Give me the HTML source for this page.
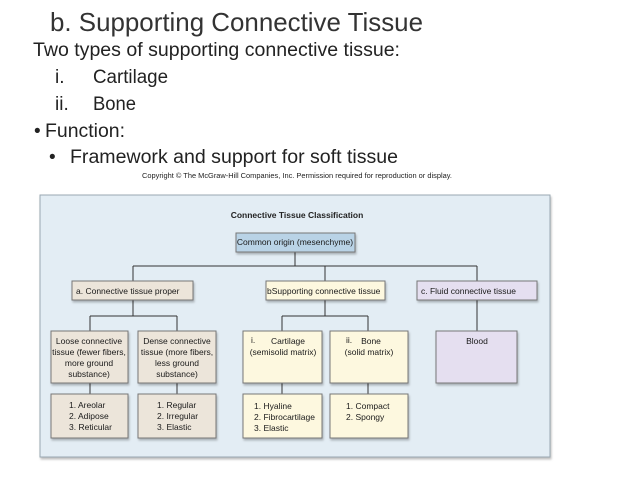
<!DOCTYPE html>
<html><head><meta charset="utf-8"><style>
html,body{margin:0;padding:0;background:#fff;}
svg{display:block;font-family:"Liberation Sans",sans-serif;}
</style></head><body>
<svg width="638" height="478" viewBox="0 0 638 478" xmlns="http://www.w3.org/2000/svg">
<defs><filter id="sh" x="-10%" y="-10%" width="130%" height="140%"><feDropShadow dx="1" dy="2" stdDeviation="1" flood-color="#000" flood-opacity="0.25"/></filter></defs>
<g fill="#222">
<text x="50" y="31" font-size="26" textLength="373" lengthAdjust="spacingAndGlyphs" fill="#333">b. Supporting Connective Tissue</text>
<text x="33" y="56" font-size="19" textLength="367" lengthAdjust="spacingAndGlyphs">Two types of supporting connective tissue:</text>
<text x="55" y="83" font-size="19">i.</text>
<text x="93" y="83" font-size="19" textLength="75" lengthAdjust="spacingAndGlyphs">Cartilage</text>
<text x="55" y="110" font-size="19">ii.</text>
<text x="93" y="110" font-size="19" textLength="43" lengthAdjust="spacingAndGlyphs">Bone</text>
<text x="34" y="137" font-size="19">•</text>
<text x="45" y="137" font-size="19" textLength="80" lengthAdjust="spacingAndGlyphs">Function:</text>
<text x="49" y="163" font-size="19">•</text>
<text x="70" y="163" font-size="19" textLength="328" lengthAdjust="spacingAndGlyphs">Framework and support for soft tissue</text>
<text x="142" y="178" font-size="7" textLength="310" lengthAdjust="spacingAndGlyphs">Copyright © The McGraw-Hill Companies, Inc. Permission required for reproduction or display.</text>
</g>
<rect x="40" y="195" width="510" height="262" fill="#e3edf4" stroke="#9aa8b2" stroke-width="1" filter="url(#sh)"/>
<text x="297" y="218" font-size="8.5" font-weight="bold" text-anchor="middle" fill="#222">Connective Tissue Classification</text>
<g stroke="#333" stroke-width="1" fill="none">
<path d="M295 252V266M133 266H477M133 266V281M325 266V281M477 266V281"/>
<path d="M133 300V316M90 316H177M90 316V331M177 316V331"/>
<path d="M325 300V316M282 316H368M282 316V331M368 316V331"/>
<path d="M477 300V331"/>
<path d="M90 383V394M177 383V394M282 383V394M368 383V394"/>
</g>
<g stroke="#777" stroke-width="1" filter="url(#sh)">
<rect x="236" y="233" width="119" height="19" fill="#b9d3e6"/>
<rect x="72" y="281" width="121" height="19" fill="#ece5da"/>
<rect x="266" y="281" width="119" height="19" fill="#fdf8df"/>
<rect x="417" y="281" width="120" height="19" fill="#e5dff0"/>
<rect x="51" y="331" width="77" height="52" fill="#ece5da"/>
<rect x="138" y="331" width="78" height="52" fill="#ece5da"/>
<rect x="243" y="331" width="79" height="52" fill="#fdf8df"/>
<rect x="330" y="331" width="78" height="52" fill="#fdf8df"/>
<rect x="436" y="331" width="81" height="52" fill="#e5dff0"/>
<rect x="51" y="394" width="77" height="44" fill="#ece5da"/>
<rect x="138" y="394" width="78" height="44" fill="#ece5da"/>
<rect x="243" y="394" width="79" height="44" fill="#fdf8df"/>
<rect x="330" y="394" width="78" height="44" fill="#fdf8df"/>
</g>
<g font-size="8.5" fill="#1a1a1a">
<text x="295" y="245" text-anchor="middle">Common origin (mesenchyme)</text>
<text x="76" y="294">a.  Connective tissue proper</text>
<text x="267" y="294">bSupporting connective tissue</text>
<text x="421" y="294">c.  Fluid connective tissue</text>
<g text-anchor="middle">
<text x="89" y="344">Loose connective</text><text x="89" y="355">tissue (fewer fibers,</text><text x="89" y="366">more ground</text><text x="89" y="377">substance)</text>
<text x="177" y="344">Dense connective</text><text x="177" y="355">tissue (more fibers,</text><text x="177" y="366">less ground</text><text x="177" y="377">substance)</text>
<text x="288" y="344">Cartilage</text><text x="283" y="355">(semisolid matrix)</text>
<text x="371" y="344">Bone</text><text x="369" y="355">(solid matrix)</text>
<text x="477" y="344">Blood</text>
</g>
<text x="251" y="343">i.</text><text x="346" y="343">ii.</text>
<text x="69" y="408">1. Areolar</text><text x="69" y="419">2. Adipose</text><text x="69" y="430">3. Reticular</text>
<text x="157" y="408">1. Regular</text><text x="157" y="419">2. Irregular</text><text x="157" y="430">3. Elastic</text>
<text x="254" y="409">1. Hyaline</text><text x="254" y="420">2. Fibrocartilage</text><text x="254" y="431">3. Elastic</text>
<text x="346" y="409">1. Compact</text><text x="346" y="420">2. Spongy</text>
</g>
</svg>
</body></html>
